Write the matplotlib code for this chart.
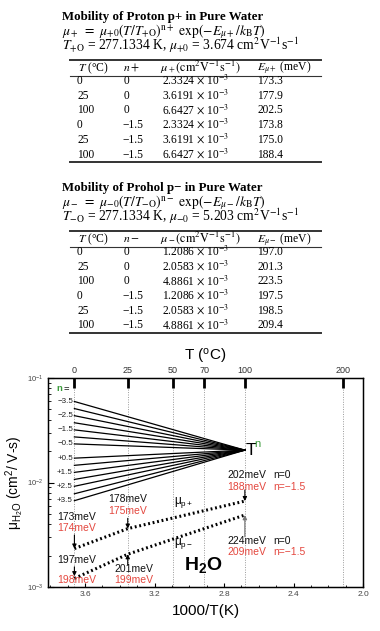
import numpy as np
import matplotlib
matplotlib.use("Agg")
import matplotlib.pyplot as plt
from matplotlib.lines import Line2D
from matplotlib.ticker import FixedLocator, MultipleLocator, LogLocator, NullFormatter

plt.rcParams['font.family'] = ['Liberation Sans', 'DejaVu Sans']
plt.rcParams['mathtext.fontset'] = 'custom'
plt.rcParams['mathtext.rm'] = 'Liberation Sans'
plt.rcParams['mathtext.it'] = 'Liberation Sans:italic'
plt.rcParams['mathtext.bf'] = 'Liberation Sans:bold'

# table data
T_C = [0, 25, 100, 0, 25, 100]
n_plus = [0, 0, 0, -1.5, -1.5, -1.5]
mu_plus = [2.3324e-3, 3.6191e-3, 6.6427e-3, 2.3324e-3, 3.6191e-3, 6.6427e-3]
E_plus = [173.3, 177.9, 202.5, 173.8, 175.0, 188.4]
n_minus = [0, 0, 0, -1.5, -1.5, -1.5]
mu_minus = [1.2086e-3, 2.0583e-3, 4.8861e-3, 1.2086e-3, 2.0583e-3, 4.8861e-3]
E_minus = [197.0, 201.3, 223.5, 197.5, 198.5, 209.4]

# fan of T^n lines (value at 0 C, all meet at 100 C)
n_fan = [-3.5, -3.0, -2.5, -2.0, -1.5, -1.0, -0.5, 0.5, 1.0, 1.5, 2.0, 2.5, 3.0, 3.5]
mu_fan_0C = [0.0596, 0.0510, 0.0436, 0.0373, 0.0319, 0.0273, 0.0234,
             0.0171, 0.0146, 0.0125, 0.0107, 0.0092, 0.0078, 0.0067]
mu_fan_100C = 0.0204
n_labels = ['\u22123.5', '\u22122.5', '\u22121.5', '\u22120.5', '+0.5', '+1.5', '+2.5', '+3.5']

top_ticks_C = [0, 25, 50, 70, 100, 200]

W, H = 380, 631
def fx(x):
    return x / W
def fy(y):
    return 1 - y / H

fig = plt.figure(figsize=(3.8, 6.31), dpi=100)

serif = dict(family='Liberation Serif', math_fontfamily='stix', va='baseline')

def rule(y, lw):
    fig.add_artist(Line2D([fx(70), fx(321)], [fy(y), fy(y)], transform=fig.transFigure,
                          color='#333333', lw=lw))

def table(sign, name, y0, mu0, ns, mus, Es):
    s = '+' if sign == '+' else '-'
    fig.text(fx(62), fy(y0 + 4), 'Mobility of %s p%s in Pure Water' % (name, '+' if sign == '+' else '\u2212'),
             fontsize=9.3, fontweight='bold', **serif)
    fig.text(fx(62), fy(y0 + 19),
             r'$\mu_%s\ =\ \mu_{%s0}(T/T_{%s\mathrm{O}})^{\mathrm{n}%s}\ \exp(-E_{\mu%s}/k_\mathrm{B}T)$' % (s, s, s, s, s),
             fontsize=9.8, **serif)
    fig.text(fx(62), fy(y0 + 34),
             r'$T_{%s\mathrm{O}}$ = 277.1334 K, $\mu_{%s0}$ = %s cm$^2$V$^{-1}$s$^{-1}$' % (s, s, mu0),
             fontsize=9.8, **serif)
    rule(y0 + 44, 1.4)
    hy = y0 + 55
    fig.text(fx(78), fy(hy), r'$T$ (°C)', fontsize=8.4, **serif)
    fig.text(fx(123), fy(hy), r'$n%s$' % s, fontsize=8.4, **serif)
    fig.text(fx(160), fy(hy), r'$\mu_%s(\mathrm{cm^2V^{-1}s^{-1}})$' % s, fontsize=8.8, **serif)
    fig.text(fx(257), fy(hy), r'$E_{\mu%s}$ (meV)' % s, fontsize=8.4, **serif)
    rule(y0 + 59.5, 0.8)
    for i in range(len(T_C)):
        ry = y0 + 68 + i * 14.7
        fig.text(fx(77), fy(ry), str(T_C[i]), fontsize=8.3, **serif)
        nt = '0' if ns[i] == 0 else '\u2212%.1f' % abs(ns[i])
        fig.text(fx(124 if ns[i] == 0 else 122), fy(ry), nt, fontsize=8.3, **serif)
        fig.text(fx(162), fy(ry), r'%.4f $\times$ 10$^{-3}$' % (mus[i] / 1e-3), fontsize=8.3, **serif)
        fig.text(fx(257), fy(ry), '%.1f' % Es[i], fontsize=8.3, **serif)
    rule(y0 + 146, 1.4)

table('+', 'Proton', 16, '3.674', n_plus, mu_plus, E_plus)
table('-', 'Prohol', 187, '5.203', n_minus, mu_minus, E_minus)

# chart
ax = fig.add_axes([fx(48), fy(587), (363 - 48) / W, (587 - 378) / H])
ax.set_yscale('log')
ax.set_xlim(3.813, 2.0)
ax.set_ylim(1e-3, 1e-1)

inv = lambda c: 1000.0 / (c + 273.15)
x0, x100 = inv(0), inv(100)

for x in top_ticks_C:
    ax.axvline(inv(x), color='#999999', lw=0.7, ls=(0, (1, 1.5)), zorder=0)

for m in mu_fan_0C:
    ax.plot([x0, x100], [m, mu_fan_100C], color='black', lw=0.9)

for lab, i in zip(n_labels, (0, 2, 4, 6, 7, 9, 11, 13)):
    ax.text(x0 + 0.008, mu_fan_0C[i], lab, fontsize=5.8, ha='right', va='center', color='#222222')
ax.text(3.763, 0.0785, 'n', fontsize=6.8, color='#3a9a3a', fontweight='bold', va='center')
ax.text(3.725, 0.0785, '=', fontsize=6.8, color='black', va='center')

ax.text(x100 - 0.002, mu_fan_100C, 'T', fontsize=12.5, va='center', ha='left')
ax.text(2.625, 0.0232, 'n', fontsize=8, color='#3a9a3a', va='center', ha='left')

# mobility curves
xs = [inv(t) for t in T_C[:3]]
ax.plot(xs, mu_plus[:3], color='black', lw=2.2, ls=(0, (0.6, 0.9)))
ax.plot(xs, mu_minus[:3], color='black', lw=2.2, ls=(0, (0.6, 0.9)))

ax.text(3.085, 6.4e-3, r'$\mathrm{\mu_{p+}}$', fontsize=8.5, ha='left', va='center')
ax.text(3.085, 2.62e-3, r'$\mathrm{\mu_{p-}}$', fontsize=8.5, ha='left', va='center')
ax.text(2.921, 1.63e-3, r'$\mathbf{H_2O}$', fontsize=14, ha='center', va='center')

red = '#e4473e'
def two(x, y1, y2, t1, t2, ha='left'):
    ax.text(x, y1, t1, fontsize=7.5, color='#111111', ha=ha, va='center')
    ax.text(x, y2, t2, fontsize=7.5, color=red, ha=ha, va='center')

two(3.761, 4.71e-3, 3.65e-3, '173meV', '174meV')
two(3.761, 1.81e-3, 1.17e-3, '197meV', '198meV')
two(3.466, 6.90e-3, 5.37e-3, '178meV', '175meV')
two(3.433, 1.49e-3, 1.17e-3, '201meV', '199meV')
two(2.781, 1.18e-2, 9.12e-3, '202meV', '188meV')
two(2.781, 2.77e-3, 2.18e-3, '224meV', '209meV')
ax.text(2.518, 1.18e-2, 'n=0', fontsize=7.5, color='#111111', va='center')
ax.text(2.518, 9.12e-3, 'n=\u22121.5', fontsize=7.5, color=red, va='center')
ax.text(2.518, 2.77e-3, 'n=0', fontsize=7.5, color='#111111', va='center')
ax.text(2.518, 2.18e-3, 'n=\u22121.5', fontsize=7.5, color=red, va='center')

arr = dict(arrowstyle='-|>', color='black', lw=0.8, mutation_scale=6, shrinkA=0, shrinkB=0)
ax.annotate('', xy=(x0, mu_plus[0]), xytext=(x0, 3.15e-3), arrowprops=arr)
ax.annotate('', xy=(x0, mu_minus[0] * 1.05), xytext=(x0, 1.56e-3), arrowprops=arr)
ax.annotate('', xy=(xs[1], mu_plus[1]), xytext=(xs[1], 4.54e-3), arrowprops=arr)
ax.annotate('', xy=(xs[1], mu_minus[1]), xytext=(xs[1], 1.63e-3), arrowprops=arr)
ax.annotate('', xy=(x100, mu_plus[2]), xytext=(x100, 8.48e-3), arrowprops=arr)
ax.annotate('', xy=(x100, mu_minus[2]), xytext=(x100, 3.03e-3),
            arrowprops=dict(arrowstyle='-|>', color='#777777', lw=0.9, mutation_scale=6, shrinkA=0, shrinkB=0))

ax.xaxis.set_major_locator(MultipleLocator(0.4))
ax.xaxis.set_minor_locator(MultipleLocator(0.1))
ax.xaxis.set_major_formatter(plt.FuncFormatter(lambda v, p: '%.1f' % v))
ax.yaxis.set_major_locator(LogLocator(base=10, numticks=5))
ax.yaxis.set_minor_locator(LogLocator(base=10, subs=np.arange(2, 10), numticks=20))
ax.yaxis.set_minor_formatter(NullFormatter())
ax.tick_params(axis='both', which='both', direction='in', labelsize=6, labelcolor='#444444', top=False)
ax.tick_params(axis='x', which='major', length=3, pad=3)
ax.tick_params(axis='x', which='minor', length=1.5)
ax.tick_params(axis='y', which='major', length=4, labelsize=5.5, pad=3)
ax.tick_params(axis='y', which='minor', length=2)
for sp in ax.spines.values():
    sp.set_linewidth(1.0)

ax.set_xlabel('1000/T(K)', fontsize=11, labelpad=4)
ax.set_ylabel(r'$\mathrm{\mu_{H_2O}}$ (cm$^2$/ V-s)', fontsize=10, labelpad=1)

top = ax.twiny()
top.set_xlim(ax.get_xlim())
top.xaxis.set_major_locator(FixedLocator([inv(t) for t in top_ticks_C]))
top.set_xticklabels([str(t) for t in top_ticks_C])
top.tick_params(axis='x', direction='in', length=7, width=2, labelsize=6.5, pad=2, labelcolor='#333333')
top.xaxis.set_minor_locator(FixedLocator([]))
top.set_xlabel('T ($\\mathrm{^oC}$)', fontsize=11, labelpad=4)

fig.savefig('out.png', dpi=100)
